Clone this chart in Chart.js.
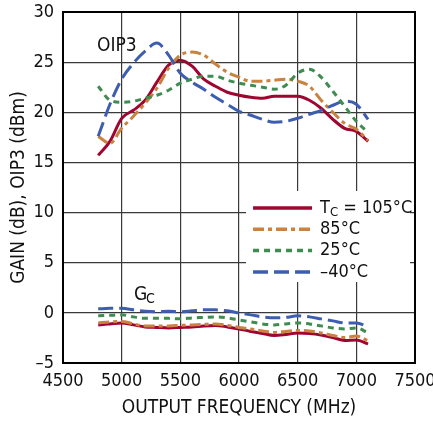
<!DOCTYPE html>
<html lang="en">
<head>
    <meta charset="UTF-8">
    <title>Gain and OIP3 vs Output Frequency</title>
    <script src="https://cdn.jsdelivr.net/npm/chart.js"></script>
    <style>
        body {
            margin: 0;
            padding: 0;
            background: #fff;
        }
        #wrap {
            width: 433px;
            height: 421px;
        }
    </style>
</head>
<body>
    <div id="wrap">
        <canvas id="gainChart" width="433" height="421"></canvas>
    </div>

    <script>
        // output frequency (MHz)
        const freqs = [4800, 4900, 5000, 5100, 5200, 5300, 5400, 5500, 5600, 5700, 5800, 5900,
                       6000, 6100, 6200, 6300, 6400, 6500, 6600, 6700, 6800, 6900, 7000, 7100];

        // OIP3 (dBm)
        const oip3_105 = [15.7, 17.1, 19.4, 20.2, 21.2, 23.0, 24.7, 25.2, 24.6, 23.3, 22.6, 22.0,
                          21.7, 21.5, 21.4, 21.6, 21.6, 21.6, 21.2, 20.4, 19.3, 18.4, 18.1, 17.1];
        const oip3_85  = [17.6, 16.9, 18.4, 19.6, 20.9, 22.4, 24.4, 25.7, 26.0, 25.7, 24.8, 24.0,
                          23.5, 23.1, 23.1, 23.2, 23.3, 23.1, 22.6, 21.2, 20.0, 18.9, 18.3, 17.2];
        const oip3_25  = [22.6, 21.2, 21.0, 21.1, 21.4, 21.7, 22.2, 22.9, 23.3, 23.6, 23.6, 23.2,
                          22.9, 22.7, 22.5, 22.3, 22.7, 23.9, 24.3, 23.5, 22.1, 20.6, 19.1, 18.0];
        const oip3_m40 = [17.6, 20.8, 23.3, 24.9, 26.1, 26.9, 25.7, 23.9, 23.0, 22.3, 21.5, 20.8,
                          20.1, 19.7, 19.3, 19.0, 19.1, 19.4, 19.8, 20.2, 20.7, 21.1, 20.8, 19.3];

        // conversion gain (dB)
        const gain_105 = [-1.2, -1.1, -1.0, -1.2, -1.4, -1.45, -1.5, -1.45, -1.4, -1.3, -1.25, -1.4,
                          -1.6, -1.85, -2.05, -2.25, -2.15, -2.0, -2.05, -2.2, -2.45, -2.75, -2.7, -3.1];
        const gain_85  = [-1.0, -0.9, -0.85, -1.1, -1.3, -1.3, -1.3, -1.25, -1.2, -1.15, -1.1, -1.25,
                          -1.45, -1.6, -1.8, -1.95, -1.85, -1.75, -1.8, -2.0, -2.25, -2.45, -2.3, -2.8];
        const gain_25  = [-0.3, -0.25, -0.2, -0.4, -0.55, -0.55, -0.55, -0.6, -0.5, -0.45, -0.4, -0.5,
                          -0.7, -0.9, -1.1, -1.2, -1.1, -1.0, -1.1, -1.3, -1.5, -1.6, -1.5, -2.0];
        const gain_m40 = [0.4, 0.45, 0.45, 0.3, 0.15, 0.1, 0.15, 0.1, 0.2, 0.3, 0.3, 0.2,
                          0.0, -0.2, -0.4, -0.5, -0.45, -0.3, -0.4, -0.6, -0.8, -1.0, -1.0, -1.4];

        const legendLabels = ['105°C', '85°C', '25°C', '–40°C'];
        const xTicks = [4500, 5000, 5500, 6000, 6500, 7000, 7500];
        const yTicks = [-5, 0, 5, 10, 15, 20, 25, 30];

        const FONT = '"Liberation Sans Narrow", "DejaVu Sans Condensed", Arial, sans-serif';

        const styles = [
            { color: '#9e0631', dash: [] },
            { color: '#c9823f', dash: [11, 4, 4, 4] },
            { color: '#3e8c4f', dash: [6, 5] },
            { color: '#3d5db0', dash: [15, 6] }
        ];

        function pts(ys) {
            return freqs.map((f, i) => ({ x: f, y: ys[i] }));
        }

        function makeSet(ys, idx, label) {
            return {
                label: label,
                data: pts(ys),
                borderColor: styles[idx].color,
                borderDash: styles[idx].dash,
                borderWidth: 3,
                pointRadius: 0,
                fill: false,
                cubicInterpolationMode: 'monotone'
            };
        }

        const datasets = [
            makeSet(oip3_25, 2, legendLabels[2]),
            makeSet(oip3_m40, 3, legendLabels[3]),
            makeSet(oip3_85, 1, legendLabels[1]),
            makeSet(oip3_105, 0, legendLabels[0]),
            makeSet(gain_m40, 3, ''),
            makeSet(gain_25, 2, ''),
            makeSet(gain_85, 1, ''),
            makeSet(gain_105, 0, '')
        ];

        // legend box, plot frame and curve labels, drawn on top
        const notes = {
            id: 'notes',
            afterDraw(chart) {
                const ctx = chart.ctx;
                const xs = chart.scales.x, ys = chart.scales.y;
                const a = chart.chartArea;
                ctx.save();
                ctx.fillStyle = '#111';
                ctx.textBaseline = 'middle';
                ctx.textAlign = 'left';

                // OIP3 and Gc labels
                ctx.font = '19px ' + FONT;
                ctx.fillText('OIP3', xs.getPixelForValue(4790), ys.getPixelForValue(26.6));
                ctx.fillText('G', xs.getPixelForValue(5105), ys.getPixelForValue(1.8));
                ctx.font = '14px ' + FONT;
                ctx.fillText('C', xs.getPixelForValue(5105) + 12, ys.getPixelForValue(1.3));

                // legend box
                const bx = xs.getPixelForValue(6060), by = ys.getPixelForValue(12.15);
                const bw = 164, bh = 91;
                ctx.fillStyle = '#fff';
                ctx.fillRect(bx, by, bw, bh);

                for (let i = 0; i < 4; i++) {
                    const y = by + 17 + i * 21.3;
                    ctx.beginPath();
                    ctx.setLineDash(styles[i].dash);
                    ctx.strokeStyle = styles[i].color;
                    ctx.lineWidth = 3.5;
                    ctx.moveTo(bx + 7, y);
                    ctx.lineTo(bx + 66, y);
                    ctx.stroke();
                    ctx.setLineDash([]);

                    ctx.fillStyle = '#111';
                    ctx.font = '18px ' + FONT;
                    let tx = bx + 74;
                    if (i === 0) {
                        ctx.fillText('T', tx, y);
                        tx += ctx.measureText('T').width;
                        ctx.font = '13px ' + FONT;
                        ctx.fillText('C', tx, y + 5);
                        tx += ctx.measureText('C').width;
                        ctx.font = '18px ' + FONT;
                        ctx.fillText(' = ' + legendLabels[0], tx, y);
                    } else {
                        ctx.fillText(legendLabels[i], tx, y);
                    }
                }

                // frame round the plot
                ctx.strokeStyle = '#000';
                ctx.lineWidth = 2;
                ctx.strokeRect(a.left, a.top, a.right - a.left, a.bottom - a.top);
                ctx.restore();
            }
        };

        // keep the plot box fixed: no extra room for end labels
        function noPad(s) {
            s.paddingTop = 0;
            s.paddingBottom = 0;
            s.paddingLeft = 0;
            s.paddingRight = 0;
        }

        new Chart(document.getElementById('gainChart').getContext('2d'), {
            type: 'line',
            data: { datasets: datasets },
            options: {
                responsive: false,
                animation: false,
                layout: { padding: { top: 12, right: 18, left: 0, bottom: 0 } },
                plugins: {
                    legend: { display: false },
                    tooltip: { enabled: false }
                },
                scales: {
                    x: {
                        type: 'linear',
                        min: 4500,
                        max: 7500,
                        afterBuildTicks: s => { s.ticks = xTicks.map(v => ({ value: v })); },
                        afterFit: s => { s.height = 58; noPad(s); },
                        ticks: {
                            color: '#111',
                            padding: 8,
                            maxRotation: 0,
                            autoSkip: false,
                            font: { family: FONT, size: 18 },
                            callback: v => String(v)
                        },
                        grid: {
                            color: '#3a3a3a',
                            lineWidth: 1.2,
                            drawTicks: false
                        },
                        border: { color: '#000', width: 2 },
                        title: {
                            display: true,
                            text: 'OUTPUT FREQUENCY (MHz)',
                            color: '#111',
                            font: { family: FONT, size: 19 },
                            padding: { top: 0, bottom: 2 }
                        }
                    },
                    y: {
                        min: -5,
                        max: 30,
                        afterBuildTicks: s => { s.ticks = yTicks.map(v => ({ value: v })); },
                        afterFit: s => { s.width = 63; noPad(s); },
                        ticks: {
                            color: '#111',
                            padding: 9,
                            autoSkip: false,
                            font: { family: FONT, size: 18 },
                            callback: v => (v < 0 ? '–' + Math.abs(v) : String(v))
                        },
                        grid: {
                            color: '#3a3a3a',
                            lineWidth: 1.2,
                            drawTicks: false
                        },
                        border: { color: '#000', width: 2 },
                        title: {
                            display: true,
                            text: 'GAIN (dB), OIP3 (dBm)',
                            color: '#111',
                            font: { family: FONT, size: 19 },
                            padding: { top: 8, bottom: 0 }
                        }
                    }
                }
            },
            plugins: [notes]
        });
    </script>
</body>
</html>
